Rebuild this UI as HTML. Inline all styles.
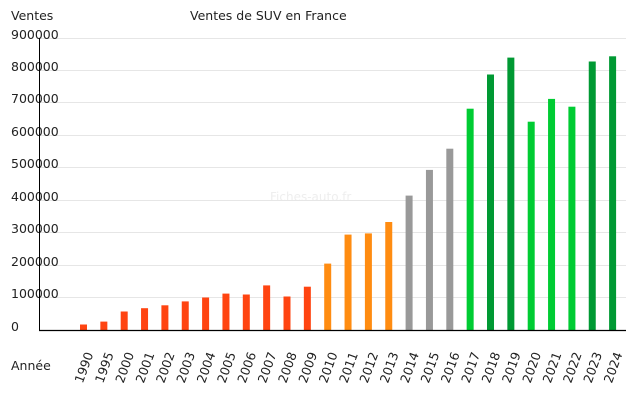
<!DOCTYPE html>
<html><head><meta charset="utf-8"><style>body{margin:0;background:#fff}svg{display:block;font-family:"DejaVu Sans","Liberation Sans",sans-serif}</style></head>
<body>
<svg width="640" height="400" viewBox="0 0 640 400">
<text x="11" y="20" font-size="12.5" fill="#222">Ventes</text>
<text x="190" y="20" font-size="12.5" fill="#222">Ventes de SUV en France</text>
<text x="270" y="201" font-size="12" fill="#eee">Fiches-auto.fr</text>
<g stroke="#e6e6e6" stroke-width="1">
<line x1="40" x2="626" y1="38.5" y2="38.5"/><line x1="40" x2="626" y1="70.5" y2="70.5"/><line x1="40" x2="626" y1="102.5" y2="102.5"/><line x1="40" x2="626" y1="135.5" y2="135.5"/><line x1="40" x2="626" y1="167.5" y2="167.5"/><line x1="40" x2="626" y1="200.5" y2="200.5"/><line x1="40" x2="626" y1="232.5" y2="232.5"/><line x1="40" x2="626" y1="265.5" y2="265.5"/><line x1="40" x2="626" y1="297.5" y2="297.5"/>
</g>
<g font-size="12.5" fill="#222">
<text x="11" y="39">900000</text><text x="11" y="71">800000</text><text x="11" y="103">700000</text><text x="11" y="136">600000</text><text x="11" y="168">500000</text><text x="11" y="201">400000</text><text x="11" y="233">300000</text><text x="11" y="266">200000</text><text x="11" y="298">100000</text><text x="11" y="331">0</text>
<text x="11" y="370">Année</text>
</g>
<g fill="#ff4411">
<rect x="80" y="324.5" width="7" height="6.5"/>
<rect x="100.35" y="321.6" width="7" height="9.4"/>
<rect x="120.7" y="311.5" width="7" height="19.5"/>
<rect x="141.05" y="308.2" width="7" height="22.8"/>
<rect x="161.4" y="305.3" width="7" height="25.7"/>
<rect x="181.75" y="301.4" width="7" height="29.6"/>
<rect x="202.1" y="297.5" width="7" height="33.5"/>
<rect x="222.45" y="293.6" width="7" height="37.4"/>
<rect x="242.8" y="294.5" width="7" height="36.5"/>
<rect x="263.15" y="285.4" width="7" height="45.6"/>
<rect x="283.5" y="296.5" width="7" height="34.5"/>
<rect x="303.85" y="286.7" width="7" height="44.3"/>
</g>
<g fill="#ff8c11">
<rect x="324.2" y="263.6" width="7" height="67.4"/>
<rect x="344.55" y="234.6" width="7" height="96.4"/>
<rect x="364.9" y="233.4" width="7" height="97.6"/>
<rect x="385.25" y="222" width="7" height="109"/>
</g>
<g fill="#999999">
<rect x="405.6" y="195.6" width="7" height="135.4"/>
<rect x="425.95" y="169.9" width="7" height="161.1"/>
<rect x="446.3" y="148.7" width="7" height="182.3"/>
</g>
<g fill="#00cc33">
<rect x="466.65" y="108.7" width="7" height="222.3"/>
<rect x="527.7" y="121.7" width="7" height="209.3"/>
<rect x="548.05" y="98.9" width="7" height="232.1"/>
<rect x="568.4" y="106.7" width="7" height="224.3"/>
</g>
<g fill="#009933">
<rect x="487" y="74.5" width="7" height="256.5"/>
<rect x="507.35" y="57.6" width="7" height="273.4"/>
<rect x="588.75" y="61.5" width="7" height="269.5"/>
<rect x="609.1" y="56.3" width="7" height="274.7"/>
</g>
<g font-size="12.5" fill="#222" text-anchor="end">
<text transform="translate(93.5,354) rotate(-70)">1990</text>
<text transform="translate(113.85,354) rotate(-70)">1995</text>
<text transform="translate(134.2,354) rotate(-70)">2000</text>
<text transform="translate(154.55,354) rotate(-70)">2001</text>
<text transform="translate(174.9,354) rotate(-70)">2002</text>
<text transform="translate(195.25,354) rotate(-70)">2003</text>
<text transform="translate(215.6,354) rotate(-70)">2004</text>
<text transform="translate(235.95,354) rotate(-70)">2005</text>
<text transform="translate(256.3,354) rotate(-70)">2006</text>
<text transform="translate(276.65,354) rotate(-70)">2007</text>
<text transform="translate(297,354) rotate(-70)">2008</text>
<text transform="translate(317.35,354) rotate(-70)">2009</text>
<text transform="translate(337.7,354) rotate(-70)">2010</text>
<text transform="translate(358.05,354) rotate(-70)">2011</text>
<text transform="translate(378.4,354) rotate(-70)">2012</text>
<text transform="translate(398.75,354) rotate(-70)">2013</text>
<text transform="translate(419.1,354) rotate(-70)">2014</text>
<text transform="translate(439.45,354) rotate(-70)">2015</text>
<text transform="translate(459.8,354) rotate(-70)">2016</text>
<text transform="translate(480.15,354) rotate(-70)">2017</text>
<text transform="translate(500.5,354) rotate(-70)">2018</text>
<text transform="translate(520.85,354) rotate(-70)">2019</text>
<text transform="translate(541.2,354) rotate(-70)">2020</text>
<text transform="translate(561.55,354) rotate(-70)">2021</text>
<text transform="translate(581.9,354) rotate(-70)">2022</text>
<text transform="translate(602.25,354) rotate(-70)">2023</text>
<text transform="translate(622.6,354) rotate(-70)">2024</text>
</g>
<line x1="39.5" x2="39.5" y1="38" y2="331" stroke="#000"/>
<line x1="39" x2="626" y1="330.5" y2="330.5" stroke="#000" stroke-width="1.2"/>
</svg>
</body></html>
